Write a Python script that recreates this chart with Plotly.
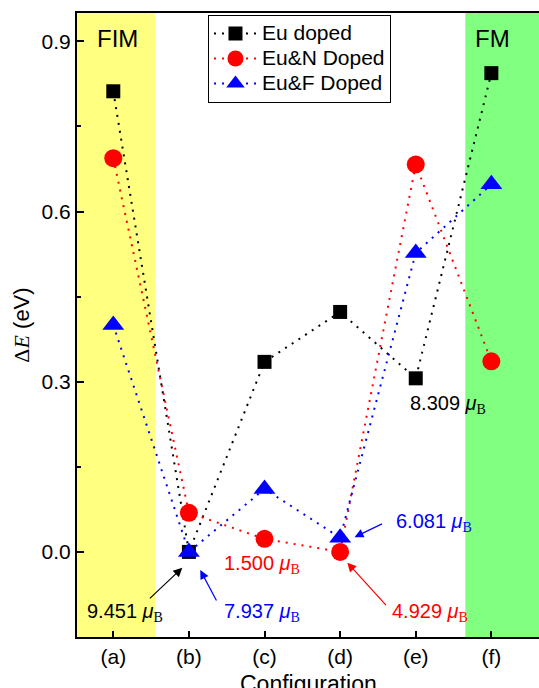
import plotly.graph_objects as go

configs = ["(a)", "(b)", "(c)", "(d)", "(e)", "(f)"]
x_pos = [1, 2, 3, 4, 5, 6]
eu_doped = [0.812, 0.0, 0.335, 0.423, 0.306, 0.844]
eu_n_doped = [0.694, 0.069, 0.023, 0.0, 0.683, 0.336]
eu_f_doped = [0.40, 0.0, 0.111, 0.025, 0.527, 0.648]
series_names = ["Eu doped", "Eu&N Doped", "Eu&F Doped"]
y_ticks = [0.0, 0.3, 0.6, 0.9]

FONT = "Liberation Sans, Arial, sans-serif"
SERIF = "Liberation Serif, Times New Roman, serif"

def mub(val):
    return f"{val} <i>μ</i><sub><span style='font-family:{SERIF}'>B</span></sub>"

def legname(n):
    return f"<span style='font-size:21px'>{n}</span>"

DOT = "2px,6px"
fig = go.Figure()
fig.add_trace(go.Scatter(x=x_pos, y=eu_doped, name=legname(series_names[0]), mode="lines+markers",
                         line=dict(color="black", dash=DOT, width=2),
                         marker=dict(symbol="square", size=14, color="black")))
fig.add_trace(go.Scatter(x=x_pos, y=eu_n_doped, name=legname(series_names[1]), mode="lines+markers",
                         line=dict(color="red", dash=DOT, width=2),
                         marker=dict(symbol="circle", size=18, color="red")))
fig.add_trace(go.Scatter(x=x_pos, y=eu_f_doped, name=legname(series_names[2]), mode="lines+markers",
                         line=dict(color="blue", dash=DOT, width=2),
                         marker=dict(symbol="triangle-up", size=19, color="blue")))

shapes = [
    dict(type="rect", xref="x", yref="paper", x0=0.4, x1=1.555, y0=0, y1=1,
         fillcolor="#ffff80", line=dict(width=0), layer="below"),
    dict(type="rect", xref="x", yref="paper", x0=5.655, x1=7.0, y0=0, y1=1,
         fillcolor="#80ff80", line=dict(width=0), layer="below"),
]

ann_font = 20
annotations = [
    dict(x=1.06, y=0.905, xref="x", yref="y", text="FIM", showarrow=False,
         font=dict(size=24, color="black", family=FONT)),
    dict(x=6.01, y=0.905, xref="x", yref="y", text="FM", showarrow=False,
         font=dict(size=24, color="black", family=FONT)),
    # x axis title (placed low so it is cut by the page edge, as in the reference)
    dict(x=0.5, y=-0.076, xref="paper", yref="paper", text="Configuration", showarrow=False,
         yanchor="middle", font=dict(size=23, color="black", family=FONT)),
    # labels
    dict(x=1.16, y=-0.106, xref="x", yref="y", text=mub("9.451"), showarrow=False,
         font=dict(size=ann_font, color="black", family=FONT)),
    dict(x=2.96, y=-0.106, xref="x", yref="y", text=mub("7.937"), showarrow=False,
         font=dict(size=ann_font, color="blue", family=FONT)),
    dict(x=2.97, y=-0.023, xref="x", yref="y", text=mub("1.500"), showarrow=False,
         font=dict(size=ann_font, color="red", family=FONT)),
    dict(x=5.19, y=-0.106, xref="x", yref="y", text=mub("4.929"), showarrow=False,
         font=dict(size=ann_font, color="red", family=FONT)),
    dict(x=5.24, y=0.051, xref="x", yref="y", text=mub("6.081"), showarrow=False,
         font=dict(size=ann_font, color="blue", family=FONT)),
    dict(x=5.43, y=0.259, xref="x", yref="y", text=mub("8.309"), showarrow=False,
         font=dict(size=ann_font, color="black", family=FONT)),
    # arrows
    dict(x=1.913, y=-0.028, xref="x", yref="y", text="", showarrow=True, ax=-34, ay=32,
         arrowhead=2, arrowsize=1.5, arrowwidth=1.2, arrowcolor="black"),
    dict(x=2.15, y=-0.032, xref="x", yref="y", text="", showarrow=True, ax=17, ay=32,
         arrowhead=2, arrowsize=1.5, arrowwidth=1.2, arrowcolor="blue"),
    dict(x=4.095, y=-0.019, xref="x", yref="y", text="", showarrow=True, ax=40, ay=44,
         arrowhead=2, arrowsize=1.5, arrowwidth=1.2, arrowcolor="red"),
    dict(x=4.19, y=0.026, xref="x", yref="y", text="", showarrow=True, ax=29, ay=-14,
         arrowhead=2, arrowsize=1.5, arrowwidth=1.2, arrowcolor="blue"),
]

fig.update_layout(
    width=539, height=688,
    margin=dict(l=77, r=0, t=13, b=51),
    paper_bgcolor="white", plot_bgcolor="white",
    font=dict(family=FONT, size=21, color="black"),
    shapes=shapes, annotations=annotations,
    showlegend=True,
    legend=dict(x=0.2835, y=0.997, xanchor="left", yanchor="top",
                bgcolor="white", bordercolor="black", borderwidth=1,
                font=dict(size=17, family=FONT), tracegroupgap=0,
                itemwidth=43),
    xaxis=dict(range=[0.52, 6.63], tickvals=x_pos, ticktext=configs,
               ticks="inside", ticklen=6, tickwidth=1.5, tickcolor="black",
               showline=True, linecolor="black", linewidth=2, mirror=True,
               showgrid=False, zeroline=False, automargin=False,
               tickfont=dict(size=21)),
    yaxis=dict(range=[-0.15, 0.95], tickvals=y_ticks, ticktext=["0.0", "0.3", "0.6", "0.9"],
               ticks="inside", ticklen=7, tickwidth=1.5, tickcolor="black",
               minor=dict(ticks="inside", dtick=0.15, tick0=0, ticklen=4, tickwidth=1.5, tickcolor="black"),
               showline=True, linecolor="black", linewidth=2,
               showgrid=False, zeroline=False, automargin=False,
               title=dict(text=f"<span style='font-family:{SERIF}'>Δ<i>E</i></span> (eV)", standoff=6, font=dict(size=22)),
               tickfont=dict(size=21)),
)

fig.write_html("out.html", config={"displayModeBar": False},
               post_script="document.body.style.margin='0';document.body.style.overflow='hidden';")
